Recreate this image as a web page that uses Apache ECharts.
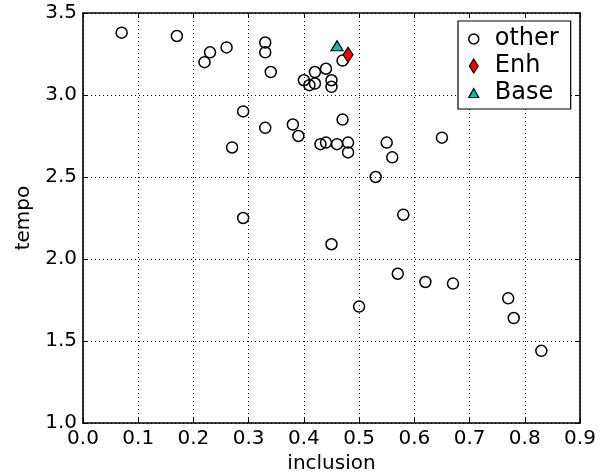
<!DOCTYPE html>
<html>
<head>
<meta charset="utf-8">
<script src="https://cdn.jsdelivr.net/npm/echarts@6/dist/echarts.min.js"></script>
<style>
html,body{margin:0;padding:0;background:#fff;}
#chart{width:610px;height:476px;}
</style>
</head>
<body>
<div id="chart"></div>
<script>
// ---- data ----
var otherInclusion = [0.07,0.17,0.22,0.23,0.26,0.33,0.33,0.34,0.40,0.41,0.42,0.42,0.44,0.45,0.45,0.47,
  0.29,0.33,0.38,0.39,0.27,0.47,0.43,0.44,0.46,0.48,0.48,0.55,0.56,0.53,0.65,0.58,0.29,0.45,0.57,0.62,0.67,0.50,0.77,0.78,0.83];
var otherTempo = [3.38,3.36,3.20,3.26,3.29,3.32,3.26,3.14,3.09,3.06,3.14,3.07,3.16,3.09,3.05,3.21,
  2.90,2.80,2.82,2.75,2.68,2.85,2.70,2.71,2.70,2.71,2.65,2.71,2.62,2.50,2.74,2.27,2.25,2.09,1.91,1.86,1.85,1.71,1.76,1.64,1.44];
var enhInclusion = [0.48];
var enhTempo = [3.245];
var baseInclusion = [0.46];
var baseTempo = [3.30];
var seriesNames = ['other','Enh','Base'];
var xMin = 0.0, xMax = 0.9, xStep = 0.1;
var yMin = 1.0, yMax = 3.5, yStep = 0.5;

function pairs(xs, ys){ return xs.map(function(x,i){ return [x, ys[i]]; }); }

var FONT = 'DejaVu Sans';
var chart = echarts.init(document.getElementById('chart'), null, {renderer:'canvas'});

var tickStyle = {show:true, inside:true, length:5, lineStyle:{color:'#000', width:1}};
var lineStyle = {show:true, onZero:false, lineStyle:{color:'#000', width:1.6}};
var gridLine = {show:true, lineStyle:{color:'#000', width:1, type:[1,3]}};

function xAx(pos, primary){
  return {
    type:'value', position:pos, min:xMin, max:xMax, interval:xStep,
    axisLine:lineStyle, axisTick:tickStyle,
    splitLine: primary ? gridLine : {show:false},
    axisLabel: primary ? {show:true, color:'#000', fontFamily:FONT, fontSize:20, margin:6,
      formatter:function(v){return v.toFixed(1);} } : {show:false},
    name: primary ? 'inclusion' : '', nameLocation:'middle', nameGap:24,
    nameTextStyle:{color:'#000', fontFamily:FONT, fontSize:20}
  };
}
function yAx(pos, primary){
  return {
    type:'value', position:pos, min:yMin, max:yMax, interval:yStep,
    axisLine:lineStyle, axisTick:tickStyle,
    splitLine: primary ? gridLine : {show:false},
    axisLabel: primary ? {show:true, color:'#000', fontFamily:FONT, fontSize:20, margin:6,
      formatter:function(v){return v.toFixed(1);} } : {show:false},
    name: primary ? 'tempo' : '', nameLocation:'middle', nameGap:46,
    nameTextStyle:{color:'#000', fontFamily:FONT, fontSize:20}
  };
}

var option = {
  backgroundColor:'#fff',
  animation:false,
  grid:{left:83, right:30, top:13, bottom:53, containLabel:false, outerBoundsMode:'none'},
  xAxis:[xAx('bottom', true), xAx('top', false)],
  yAxis:[yAx('left', true), yAx('right', false)],
  legend:{
    orient:'vertical', left:458, top:21,
    backgroundColor:'#fff', borderColor:'#000', borderWidth:1.2, borderRadius:0,
    padding:[5, 12, 3, 10],
    itemGap:1, itemWidth:10, itemHeight:14,
    textStyle:{color:'#000', fontFamily:FONT, fontSize:24, lineHeight:26, padding:[0,0,0,11]},
    data:[
      {name:seriesNames[0], icon:'circle', itemStyle:{color:'transparent', borderColor:'#000', borderWidth:1.5}},
      {name:seriesNames[1], icon:'path://M5,0L10,8L5,16L0,8Z', itemStyle:{color:'#ff0000', borderColor:'#000', borderWidth:1.2}},
      {name:seriesNames[2], icon:'path://M5,0L10,9L0,9Z', itemStyle:{color:'#00bfbf', borderColor:'#000', borderWidth:1.2}}
    ]
  },
  series:[
    {name:seriesNames[0], type:'scatter', data:pairs(otherInclusion, otherTempo),
      symbol:'circle', symbolSize:11,
      itemStyle:{color:'transparent', borderColor:'#000', borderWidth:1.5, opacity:1}},
    {name:seriesNames[1], type:'scatter', data:pairs(enhInclusion, enhTempo),
      symbol:'diamond', symbolSize:[10,15],
      itemStyle:{color:'#ff0000', borderColor:'#000', borderWidth:1.2, opacity:1}},
    {name:seriesNames[2], type:'scatter', data:pairs(baseInclusion, baseTempo),
      symbol:'triangle', symbolSize:[12,10],
      itemStyle:{color:'#00bfbf', borderColor:'#000', borderWidth:1.2, opacity:1}}
  ]
};
chart.setOption(option);
</script>
</body>
</html>
